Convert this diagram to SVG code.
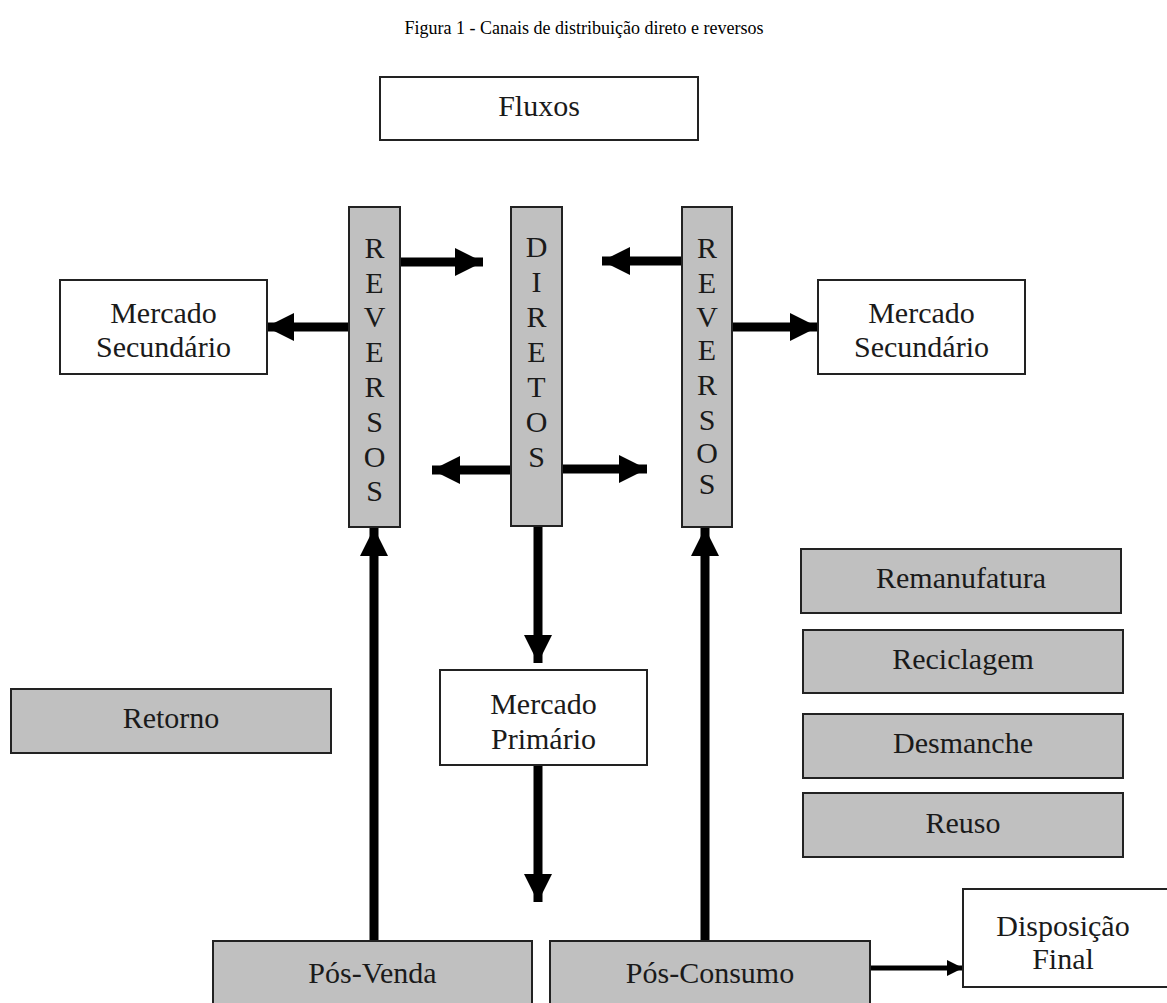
<svg xmlns="http://www.w3.org/2000/svg" width="1167" height="1003" viewBox="0 0 1167 1003">
<style>
  .box{fill:#ffffff;stroke:#222222;stroke-width:2}
  .gray{fill:#c0c0c0;stroke:#222222;stroke-width:2}
  text{font-family:"Liberation Serif","Times New Roman",serif;fill:#1a1a1a;text-anchor:middle}
  .t{font-size:30px}
  .title{font-size:18px;fill:#000}
  .conn{stroke:#000;stroke-width:9;fill:none}
  .thin{stroke:#000;stroke-width:5;fill:none}
</style>
<defs>
  <marker id="ah" markerUnits="userSpaceOnUse" markerWidth="28" markerHeight="28" refX="28" refY="14" orient="auto" viewBox="0 0 28 28">
    <path d="M0,0 L28,14 L0,28 Z" fill="#000"/>
  </marker>
  <marker id="ahs" markerUnits="userSpaceOnUse" markerWidth="16" markerHeight="16" refX="16" refY="8" orient="auto" viewBox="0 0 16 16">
    <path d="M0,0 L16,8 L0,16 Z" fill="#000"/>
  </marker>
</defs>
<rect width="1167" height="1003" fill="#ffffff"/>
<text class="title" x="584" y="34">Figura 1 - Canais de distribuição direto e reversos</text>

<g id="connectors">
  <line class="conn" x1="400" y1="262" x2="483" y2="262" marker-end="url(#ah)"/>
  <line class="conn" x1="682" y1="261" x2="602" y2="261" marker-end="url(#ah)"/>
  <line class="conn" x1="511" y1="470" x2="432" y2="470" marker-end="url(#ah)"/>
  <line class="conn" x1="562" y1="469" x2="647" y2="469" marker-end="url(#ah)"/>
  <line class="conn" x1="349" y1="327" x2="266" y2="327" marker-end="url(#ah)"/>
  <line class="conn" x1="732" y1="327" x2="818" y2="327" marker-end="url(#ah)"/>
  <line class="conn" x1="374" y1="941" x2="374" y2="528" marker-end="url(#ah)"/>
  <line class="conn" x1="705" y1="941" x2="705" y2="528" marker-end="url(#ah)"/>
  <line class="conn" x1="538" y1="526" x2="538" y2="663" marker-end="url(#ah)"/>
  <line class="conn" x1="538" y1="765" x2="538" y2="902" marker-end="url(#ah)"/>
  <line class="thin" x1="870" y1="968" x2="963" y2="968" marker-end="url(#ahs)"/>
</g>

<g id="fluxos">
  <rect class="box" x="380" y="77" width="318" height="63"/>
  <text class="t" x="539" y="116">Fluxos</text>
</g>

<g id="reversos-left">
  <rect class="gray" x="349" y="207" width="51" height="320"/>
  <text class="t" x="374.5" y="258">R</text>
  <text class="t" x="374.5" y="293">E</text>
  <text class="t" x="374.5" y="327">V</text>
  <text class="t" x="374.5" y="362">E</text>
  <text class="t" x="374.5" y="397">R</text>
  <text class="t" x="374.5" y="432">S</text>
  <text class="t" x="374.5" y="467">O</text>
  <text class="t" x="374.5" y="501">S</text>
</g>

<g id="diretos">
  <rect class="gray" x="511" y="207" width="51" height="319"/>
  <text class="t" x="536.5" y="257">D</text>
  <text class="t" x="536.5" y="292">I</text>
  <text class="t" x="536.5" y="327">R</text>
  <text class="t" x="536.5" y="362">E</text>
  <text class="t" x="536.5" y="397">T</text>
  <text class="t" x="536.5" y="432">O</text>
  <text class="t" x="536.5" y="467">S</text>
</g>

<g id="reversos-right">
  <rect class="gray" x="682" y="207" width="50" height="320"/>
  <text class="t" x="707" y="258">R</text>
  <text class="t" x="707" y="293">E</text>
  <text class="t" x="707" y="327">V</text>
  <text class="t" x="707" y="360">E</text>
  <text class="t" x="707" y="395">R</text>
  <text class="t" x="707" y="430">S</text>
  <text class="t" x="707" y="463">O</text>
  <text class="t" x="707" y="494">S</text>
</g>

<g id="mercado-secundario-left">
  <rect class="box" x="60" y="280" width="207" height="94"/>
  <text class="t" x="163.5" y="323">Mercado</text>
  <text class="t" x="163.5" y="357">Secundário</text>
</g>

<g id="mercado-secundario-right">
  <rect class="box" x="818" y="280" width="207" height="94"/>
  <text class="t" x="921.5" y="323">Mercado</text>
  <text class="t" x="921.5" y="357">Secundário</text>
</g>

<g id="mercado-primario">
  <rect class="box" x="440" y="670" width="207" height="95"/>
  <text class="t" x="543.5" y="714">Mercado</text>
  <text class="t" x="543.5" y="749">Primário</text>
</g>

<g id="retorno">
  <rect class="gray" x="11" y="689" width="320" height="64"/>
  <text class="t" x="171" y="728">Retorno</text>
</g>

<g id="remanufatura">
  <rect class="gray" x="801" y="549" width="320" height="64"/>
  <text class="t" x="961" y="588">Remanufatura</text>
</g>

<g id="reciclagem">
  <rect class="gray" x="803" y="630" width="320" height="63"/>
  <text class="t" x="963" y="669">Reciclagem</text>
</g>

<g id="desmanche">
  <rect class="gray" x="803" y="714" width="320" height="64"/>
  <text class="t" x="963" y="753">Desmanche</text>
</g>

<g id="reuso">
  <rect class="gray" x="803" y="793" width="320" height="64"/>
  <text class="t" x="963" y="833">Reuso</text>
</g>

<g id="pos-venda">
  <rect class="gray" x="213" y="941" width="319" height="75"/>
  <text class="t" x="372.5" y="983">Pós-Venda</text>
</g>

<g id="pos-consumo">
  <rect class="gray" x="550" y="941" width="320" height="75"/>
  <text class="t" x="710" y="983">Pós-Consumo</text>
</g>

<g id="disposicao-final">
  <rect class="box" x="963" y="889" width="210" height="98"/>
  <text class="t" x="1063" y="936">Disposição</text>
  <text class="t" x="1063" y="969">Final</text>
</g>
</svg>
